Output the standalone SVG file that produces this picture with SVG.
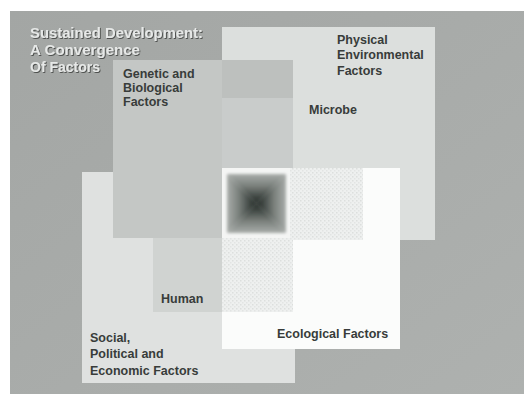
<svg xmlns="http://www.w3.org/2000/svg" width="524" height="394" viewBox="0 0 524 394">
  <defs>
    <style>
      .lbl { font-family: "Liberation Sans", Arial, sans-serif; font-weight: bold; font-size: 12.5px; fill: #383c3a; }
      .title { font-family: "Liberation Sans", Arial, sans-serif; font-weight: bold; font-size: 14px; fill: #e6e8e7; filter: url(#emboss); }
      .ramp0 { stop-color: #a9adaa; }
      .ramp1 { stop-color: #7a807c; }
      .ramp2 { stop-color: #3f4642; }
      .ramp3 { stop-color: #262d29; }
    </style>
    <linearGradient id="bgGrad" x1="0" y1="0" x2="1" y2="1">
      <stop offset="0" stop-color="#a3a6a4"/>
      <stop offset="1" stop-color="#aeb1af"/>
    </linearGradient>
    <pattern id="dots" width="4" height="4" patternUnits="userSpaceOnUse">
      <rect width="4" height="4" fill="#eef0ef"/>
      <rect x="0" y="0" width="1.5" height="1.5" fill="#dcdfdd"/>
      <rect x="2" y="2" width="1.5" height="1.5" fill="#e2e4e3"/>
    </pattern>
    <filter id="emboss" x="-5%" y="-30%" width="110%" height="160%">
      <feDropShadow dx="0.9" dy="0.9" stdDeviation="0.6" flood-color="#444745" flood-opacity="1"/>
    </filter>
    <filter id="soft" x="-10%" y="-10%" width="120%" height="120%">
      <feGaussianBlur stdDeviation="1.6"/>
    </filter>
    <linearGradient id="gTop" gradientUnits="userSpaceOnUse" x1="0" y1="174" x2="0" y2="203.5">
      <stop offset="0" class="ramp0"/>
      <stop offset="0.4" class="ramp1"/>
      <stop offset="0.78" class="ramp2"/>
      <stop offset="1" class="ramp3"/>
    </linearGradient>
    <linearGradient id="gBottom" gradientUnits="userSpaceOnUse" x1="0" y1="233" x2="0" y2="203.5">
      <stop offset="0" class="ramp0"/>
      <stop offset="0.4" class="ramp1"/>
      <stop offset="0.78" class="ramp2"/>
      <stop offset="1" class="ramp3"/>
    </linearGradient>
    <linearGradient id="gLeft" gradientUnits="userSpaceOnUse" x1="227" y1="0" x2="256.5" y2="0">
      <stop offset="0" class="ramp0"/>
      <stop offset="0.4" class="ramp1"/>
      <stop offset="0.78" class="ramp2"/>
      <stop offset="1" class="ramp3"/>
    </linearGradient>
    <linearGradient id="gRight" gradientUnits="userSpaceOnUse" x1="286" y1="0" x2="256.5" y2="0">
      <stop offset="0" class="ramp0"/>
      <stop offset="0.4" class="ramp1"/>
      <stop offset="0.78" class="ramp2"/>
      <stop offset="1" class="ramp3"/>
    </linearGradient>
  </defs>

  <rect x="0" y="0" width="524" height="394" fill="#ffffff"/>
  <rect x="10" y="11" width="514" height="383" fill="url(#bgGrad)"/>

  <g id="physical">
    <rect x="222" y="27" width="213" height="213" fill="#dcdfdd"/>
    <text class="lbl" x="337" y="44">Physical</text>
    <text class="lbl" x="337" y="59">Environmental</text>
    <text class="lbl" x="337" y="75">Factors</text>
  </g>

  <g id="social">
    <rect x="82" y="172" width="213" height="211" fill="#dfe1e0"/>
    <text class="lbl" x="90" y="342">Social,</text>
    <text class="lbl" x="90" y="358">Political and</text>
    <text class="lbl" x="90" y="375">Economic Factors</text>
  </g>

  <g id="genetic">
    <rect x="113" y="60" width="180" height="178" fill="#c4c7c5"/>
    <rect x="222" y="60" width="71" height="38" fill="#bdc0be"/>
    <text class="lbl" x="123" y="78">Genetic and</text>
    <text class="lbl" x="123" y="92">Biological</text>
    <text class="lbl" x="123" y="106">Factors</text>
  </g>

  <g id="microbe">
    <rect x="222" y="98" width="71" height="70" fill="#c9cccb"/>
    <text class="lbl" x="309" y="114">Microbe</text>
  </g>

  <g id="human">
    <rect x="153" y="238" width="69" height="74" fill="#d0d3d1"/>
    <text class="lbl" x="161" y="303">Human</text>
  </g>

  <g id="ecological">
    <rect x="222" y="168" width="178" height="181" fill="#fbfcfb"/>
    <path d="M222,168 H363 V240 H293 V312 H222 Z" fill="url(#dots)"/>
    <text class="lbl" x="277" y="338">Ecological Factors</text>
  </g>

  <g id="center">
    <rect x="222" y="168" width="68" height="70" fill="#f4f5f4"/>
    <g filter="url(#soft)">
      <polygon points="227,174 286,174 256.5,203.5" fill="url(#gTop)"/>
      <polygon points="227,233 286,233 256.5,203.5" fill="url(#gBottom)"/>
      <polygon points="227,174 227,233 256.5,203.5" fill="url(#gLeft)"/>
      <polygon points="286,174 286,233 256.5,203.5" fill="url(#gRight)"/>
    </g>
  </g>

  <g id="title">
    <text class="title" x="30" y="38" textLength="173" lengthAdjust="spacingAndGlyphs">Sustained Development:</text>
    <text class="title" x="30" y="55" textLength="110" lengthAdjust="spacingAndGlyphs">A Convergence</text>
    <text class="title" x="30" y="72" textLength="70" lengthAdjust="spacingAndGlyphs">Of Factors</text>
  </g>

  <g id="connectors"/>
</svg>
